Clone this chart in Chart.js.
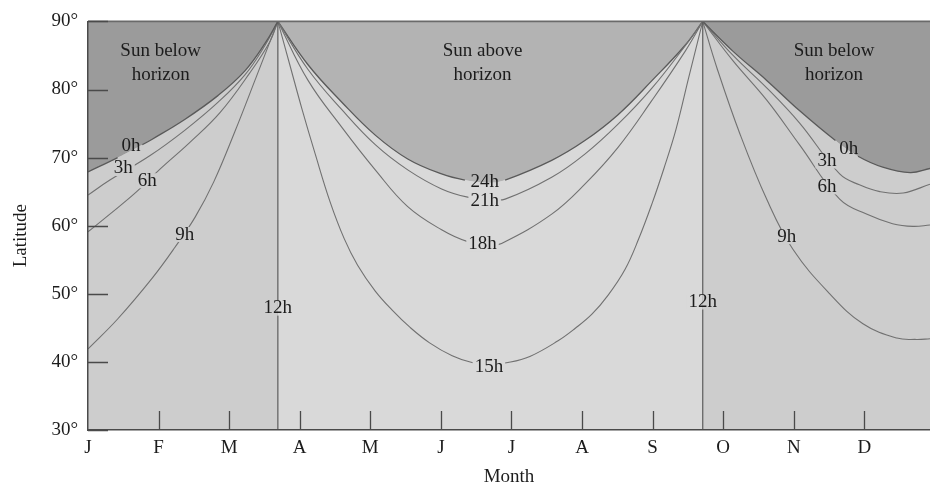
<!DOCTYPE html>
<html lang="en">
<head>
<meta charset="utf-8">
<title>Daylight hours by latitude</title>
<script src="https://cdn.jsdelivr.net/npm/chart.js@4.4.1/dist/chart.umd.min.js"></script>
<style>
    html, body { margin: 0; padding: 0; background: #ffffff; }
    #chartBox { width: 930px; height: 487px; }
</style>
</head>
<body>
<div id="chartBox"><canvas id="daylightChart" width="930" height="487"></canvas></div>
<script>
// ========== DATA (x = months since 1 January, y = latitude in degrees) ==========
const monthLabels = ['J', 'F', 'M', 'A', 'M', 'J', 'J', 'A', 'S', 'O', 'N', 'D'];
const monthTicks = [0, 1, 2, 3, 4, 5, 6, 7, 8, 9, 10, 11];
const latitudeTicks = [30, 40, 50, 60, 70, 80, 90];
const monthEnd = 11.93;
const springEquinox = 2.69;
const autumnEquinox = 8.71;

// January -> spring equinox
const janMar0hMonth = [0, 0.42, 0.77, 0.91, 1.37, 1.84, 2.22, 2.51, 2.69];
const janMar0hLat   = [67.9, 70.0, 71.9, 72.7, 75.6, 79.1, 82.7, 86.8, 90];
const janMar3hMonth = [0, 0.31, 0.88, 1.37, 1.84, 2.22, 2.51, 2.69];
const janMar3hLat   = [64.5, 66.7, 70.3, 74.0, 78.1, 82.1, 86.5, 90];
const janMar6hMonth = [0, 0.31, 0.69, 1.02, 1.44, 1.87, 2.29, 2.58, 2.69];
const janMar6hLat   = [59.1, 61.7, 65.0, 68.3, 72.2, 76.6, 82.4, 87.1, 90];
const janMar9hMonth = [0, 0.42, 0.91, 1.23, 1.52, 1.78, 2.08, 2.39, 2.69];
const janMar9hLat   = [41.9, 46.3, 52.3, 56.8, 61.3, 66.4, 73.8, 82.0, 90];

// spring equinox -> autumn equinox
const summer15hMonth = [2.69, 2.86, 3.03, 3.22, 3.43, 3.63, 3.82, 4.07, 4.31, 4.56, 4.84, 5.16, 5.44, 5.69,
                        5.95, 6.26, 6.66, 6.90, 7.14, 7.37, 7.61, 7.80, 7.99, 8.16, 8.33, 8.51, 8.71];
const summer15hLat   = [90, 83.6, 77.2, 70.5, 63.5, 58.1, 54.2, 50.4, 47.6, 45.1, 42.8, 40.9, 39.9, 39.6,
                        39.9, 40.8, 43.1, 44.9, 47.0, 49.8, 53.6, 58.0, 63.2, 68.4, 74.1, 81.7, 90];
const summer18hMonth = [2.69, 3.12, 3.60, 4.07, 4.53, 5.01, 5.37, 5.69, 5.86, 6.57, 7.04, 7.51, 7.99, 8.46, 8.71];
const summer18hLat   = [90, 81.3, 74.4, 68.2, 62.8, 59.4, 57.7, 57.2, 57.4, 61.7, 66.1, 71.5, 78.4, 85.6, 90];
const summer21hMonth = [2.69, 3.12, 3.60, 4.07, 4.53, 5.01, 5.38, 5.69, 5.91, 6.57, 7.04, 7.51, 7.99, 8.46, 8.71];
const summer21hLat   = [90, 82.9, 77.0, 71.9, 68.2, 65.4, 64.2, 63.9, 63.9, 67.1, 70.5, 74.9, 80.2, 86.4, 90];
const summer24hMonth = [2.69, 3.12, 3.60, 4.07, 4.53, 5.01, 5.34, 5.69, 5.91, 6.57, 7.04, 7.51, 7.99, 8.46, 8.71];
const summer24hLat   = [90, 83.6, 78.1, 73.3, 69.8, 67.6, 66.7, 66.3, 66.7, 69.6, 72.5, 76.3, 81.3, 86.5, 90];

// autumn equinox -> end of December
const sepDec0hMonth = [8.71, 9.14, 9.62, 10.08, 10.59, 10.91, 11.26, 11.65, 11.93];
const sepDec0hLat   = [90, 85.6, 81.3, 76.9, 72.5, 70.2, 68.6, 67.8, 68.4];
const sepDec3hMonth = [8.71, 9.14, 9.62, 10.08, 10.65, 10.93, 11.22, 11.55, 11.93];
const sepDec3hLat   = [90, 85.0, 80.2, 75.1, 67.6, 66.0, 65.0, 64.8, 66.1];
const sepDec6hMonth = [8.71, 9.14, 9.62, 10.08, 10.65, 11.03, 11.40, 11.69, 11.93];
const sepDec6hLat   = [90, 84.2, 78.4, 71.9, 63.9, 61.7, 60.3, 59.9, 60.1];
const sepDec9hMonth = [8.71, 8.91, 9.24, 9.62, 9.99, 10.51, 10.98, 11.46, 11.74, 11.93];
const sepDec9hLat   = [90, 83.2, 73.4, 63.8, 56.5, 50.0, 45.6, 43.5, 43.3, 43.4];

// 12h lines at the equinoxes
const equinoxLat = [30, 90];

// labels written on the curves and in the regions
const curveLabelText  = ['0h', '3h', '6h', '9h', '12h', '15h', '18h', '21h', '24h', '12h', '0h', '3h', '6h', '9h'];
const curveLabelMonth = [0.61, 0.50, 0.84, 1.37, 2.69, 5.68, 5.59, 5.62, 5.62, 8.71, 10.78, 10.47, 10.47, 9.90];
const curveLabelLat   = [71.7, 68.4, 66.6, 58.7, 47.9, 39.3, 57.3, 63.6, 66.4, 48.8, 71.2, 69.5, 65.7, 58.4];
const regionText  = [['Sun below', 'horizon'], ['Sun above', 'horizon'], ['Sun below', 'horizon']];
const regionMonth = [1.03, 5.59, 10.57];
const regionLat   = [85.6, 85.6, 85.6];

// x ranges where the boundary lines are broken for their label
const janMar0hGap = [0.42, 0.77];
const summer24hGap = [5.34, 5.91];
const sepDec0hGap = [10.59, 10.91];

// ========== STYLE ==========
const darkGray = '#9b9b9b';
const aboveGray = '#b3b3b3';
const winterGray = '#cdcdcd';
const summerGray = '#d9d9d9';
const lineGray = '#717171';
const edgeGray = '#5a5a5a';
const inkColor = '#1c1c1c';
const serif = '"Liberation Serif", "Times New Roman", serif';
const curveTension = 0.4;

function points(months, lats) {
    return months.map((m, i) => ({ x: m, y: lats[i] }));
}

function areaSet(months, lats, fillTo, color) {
    return {
        data: points(months, lats),
        fill: fillTo,
        backgroundColor: color,
        borderWidth: 0,
        pointRadius: 0,
        tension: curveTension
    };
}

function lineSet(months, lats, color, width, gap) {
    const set = {
        data: points(months, lats),
        fill: false,
        borderColor: color,
        borderWidth: width,
        pointRadius: 0,
        tension: curveTension
    };
    if (gap) {
        set.segment = {
            borderColor: c => (c.p0.parsed.x >= gap[0] - 1e-6 && c.p1.parsed.x <= gap[1] + 1e-6) ? 'rgba(0,0,0,0)' : color
        };
    }
    return set;
}

function equinoxSet(month) {
    return {
        data: points([month, month], equinoxLat),
        fill: false,
        borderColor: edgeGray,
        borderWidth: 1.2,
        pointRadius: 0,
        tension: 0
    };
}

// ========== DECOR PLUGIN ==========
const decorPlugin = {
    id: 'decor',
    afterDatasetsDraw(chart) {
        const { ctx, chartArea: area, scales: { x, y } } = chart;
        ctx.save();

        // top frame line
        ctx.strokeStyle = '#6a6a6a';
        ctx.lineWidth = 1.6;
        ctx.beginPath();
        ctx.moveTo(area.left, area.top);
        ctx.lineTo(area.right, area.top);
        ctx.stroke();

        // inward tick marks
        ctx.strokeStyle = '#4a4a4a';
        ctx.lineWidth = 1.3;
        ctx.beginPath();
        monthTicks.slice(1).forEach(v => {
            const px = Math.round(x.getPixelForValue(v)) + 0.5;
            ctx.moveTo(px, area.bottom);
            ctx.lineTo(px, area.bottom - 19);
        });
        latitudeTicks.forEach(v => {
            const py = Math.round(y.getPixelForValue(v)) + 0.5;
            ctx.moveTo(area.left, py);
            ctx.lineTo(area.left + 20, py);
        });
        ctx.stroke();

        // curve labels, line knocked out behind them
        ctx.font = '19px ' + serif;
        ctx.textAlign = 'center';
        ctx.textBaseline = 'middle';
        curveLabelText.forEach((t, i) => {
            const m = curveLabelMonth[i];
            const px = x.getPixelForValue(m);
            const py = y.getPixelForValue(curveLabelLat[i]);
            const w = ctx.measureText(t).width + 4;
            const h = 15;
            if (t === '12h') {
                ctx.fillStyle = m < 5 ? winterGray : summerGray;
                ctx.fillRect(px - w / 2, py - h / 2, w / 2, h);
                ctx.fillStyle = m < 5 ? summerGray : winterGray;
                ctx.fillRect(px, py - h / 2, w / 2, h);
            } else if (t !== '0h' && t !== '24h') {
                ctx.fillStyle = (m > springEquinox && m < autumnEquinox) ? summerGray : winterGray;
                ctx.fillRect(px - w / 2, py - h / 2, w, h);
            }
            ctx.fillStyle = inkColor;
            ctx.fillText(t, px, py);
        });

        // region captions
        regionText.forEach((lines, i) => {
            const px = x.getPixelForValue(regionMonth[i]);
            const py = y.getPixelForValue(regionLat[i]);
            lines.forEach((t, k) => ctx.fillText(t, px, py + k * 24));
        });

        // y axis title
        ctx.translate(21, (area.top + area.bottom) / 2 + 10);
        ctx.rotate(-Math.PI / 2);
        ctx.fillText('Latitude', 0, 0);

        ctx.restore();
    }
};

// ========== CHART ==========
const datasets = [
    equinoxSet(springEquinox),
    equinoxSet(autumnEquinox),
    lineSet(janMar0hMonth, janMar0hLat, edgeGray, 1.3, janMar0hGap),
    lineSet(janMar3hMonth, janMar3hLat, lineGray, 1.1),
    lineSet(janMar6hMonth, janMar6hLat, lineGray, 1.1),
    lineSet(janMar9hMonth, janMar9hLat, lineGray, 1.1),
    lineSet(summer15hMonth, summer15hLat, lineGray, 1.1),
    lineSet(summer18hMonth, summer18hLat, lineGray, 1.1),
    lineSet(summer21hMonth, summer21hLat, lineGray, 1.1),
    lineSet(summer24hMonth, summer24hLat, edgeGray, 1.3, summer24hGap),
    lineSet(sepDec0hMonth, sepDec0hLat, edgeGray, 1.3, sepDec0hGap),
    lineSet(sepDec3hMonth, sepDec3hLat, lineGray, 1.1),
    lineSet(sepDec6hMonth, sepDec6hLat, lineGray, 1.1),
    lineSet(sepDec9hMonth, sepDec9hLat, lineGray, 1.1),
    areaSet(janMar0hMonth, janMar0hLat, 'end', darkGray),
    areaSet(janMar0hMonth, janMar0hLat, 'start', winterGray),
    areaSet(summer24hMonth, summer24hLat, 'end', aboveGray),
    areaSet(summer24hMonth, summer24hLat, 'start', summerGray),
    areaSet(sepDec0hMonth, sepDec0hLat, 'end', darkGray),
    areaSet(sepDec0hMonth, sepDec0hLat, 'start', winterGray)
];

const canvas = document.getElementById('daylightChart');
const daylightChart = new Chart(canvas.getContext('2d'), {
    type: 'line',
    data: { datasets: datasets },
    options: {
        responsive: false,
        animation: false,
        devicePixelRatio: 1,
        events: [],
        layout: { padding: { top: 18, right: 0, bottom: 0, left: 0 } },
        plugins: {
            legend: { display: false },
            tooltip: { enabled: false },
            filler: { drawTime: 'beforeDatasetsDraw' }
        },
        scales: {
            x: {
                type: 'linear',
                min: 0,
                max: monthEnd,
                afterBuildTicks: s => { s.ticks = monthTicks.map(v => ({ value: v })); },
                afterFit: s => { s.height = 57; },
                ticks: {
                    autoSkip: false,
                    maxRotation: 0,
                    padding: 7,
                    color: inkColor,
                    font: { family: serif, size: 19 },
                    callback: v => monthLabels[v]
                },
                grid: { display: false, drawTicks: false, tickLength: 0 },
                border: { display: true, color: '#4a4a4a', width: 1.5, z: 1 },
                title: {
                    display: true,
                    text: 'Month',
                    color: inkColor,
                    font: { family: serif, size: 19, lineHeight: 1.0 },
                    padding: { top: 0, bottom: 0 }
                }
            },
            y: {
                type: 'linear',
                min: 30,
                max: 90,
                afterBuildTicks: s => { s.ticks = latitudeTicks.map(v => ({ value: v })); },
                afterFit: s => { s.width = 88; },
                ticks: {
                    padding: 10,
                    color: inkColor,
                    font: { family: serif, size: 19 },
                    callback: v => v + '°'
                },
                grid: { display: false, drawTicks: false, tickLength: 0 },
                border: { display: true, color: '#4a4a4a', width: 1.5, z: 1 }
            }
        }
    },
    plugins: [decorPlugin]
});
</script>
</body>
</html>
